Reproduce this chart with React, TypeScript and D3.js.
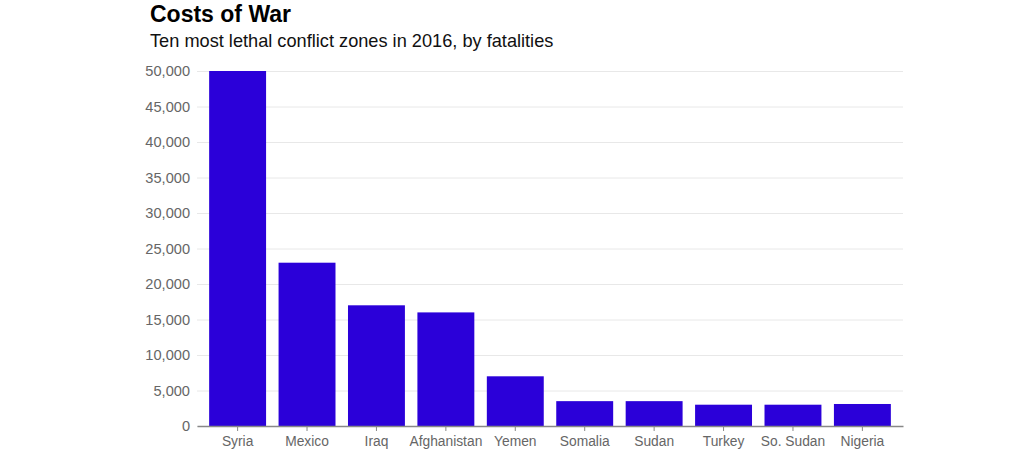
import * as d3 from "d3";
import { useEffect, useRef } from "react";

const countries = [
  "Syria",
  "Mexico",
  "Iraq",
  "Afghanistan",
  "Yemen",
  "Somalia",
  "Sudan",
  "Turkey",
  "So. Sudan",
  "Nigeria",
];
const fatalities = [50000, 23000, 17000, 16000, 7000, 3500, 3500, 3000, 3000, 3100];
const yTicks = [0, 5000, 10000, 15000, 20000, 25000, 30000, 35000, 40000, 45000, 50000];

const title = "Costs of War";
const subtitle = "Ten most lethal conflict zones in 2016, by fatalities";

export default function App() {
  const ref = useRef<SVGSVGElement | null>(null);

  useEffect(() => {
    const el = ref.current;
    if (!el) return;
    const svg = d3.select(el);
    svg.selectAll("*").remove();

    const W = 1024;
    const H = 467;
    const margin = { top: 71, right: 121, bottom: 41, left: 197 };
    const iw = W - margin.left - margin.right;
    const ih = H - margin.top - margin.bottom;
    const font = "'Liberation Sans', Arial, Helvetica, sans-serif";

    const x = d3
      .scaleBand()
      .domain(countries)
      .range([0, iw])
      .paddingInner(0.18)
      .paddingOuter(0.175);
    const y = d3.scaleLinear().domain([0, 50000]).range([ih, 0]);

    svg.attr("viewBox", `0 0 ${W} ${H}`).attr("width", W).attr("height", H);

    svg
      .append("text")
      .attr("x", 150)
      .attr("y", 22)
      .attr("font-family", font)
      .attr("font-weight", "bold")
      .attr("font-size", 23)
      .attr("fill", "#000")
      .text(title);

    svg
      .append("text")
      .attr("x", 150)
      .attr("y", 47)
      .attr("font-family", font)
      .attr("font-size", 18.2)
      .attr("fill", "#111")
      .text(subtitle);

    const g = svg
      .append("g")
      .attr("transform", `translate(${margin.left},${margin.top})`);

    g.append("g")
      .call(
        d3
          .axisLeft(y)
          .tickValues(yTicks)
          .tickFormat((v) => d3.format(",")(v as number))
          .tickSize(-iw)
          .tickPadding(7),
      )
      .call((ga) => ga.select(".domain").remove())
      .call((ga) => ga.selectAll(".tick line").attr("stroke", "#e8e8e8"))
      .call((ga) =>
        ga
          .selectAll(".tick text")
          .attr("fill", "#666")
          .attr("font-size", 14.6)
          .attr("font-family", font),
      );

    g.selectAll("rect.bar")
      .data(countries)
      .join("rect")
      .attr("class", "bar")
      .attr("x", (d) => x(d) ?? 0)
      .attr("width", x.bandwidth())
      .attr("y", (_, i) => y(fatalities[i]))
      .attr("height", (_, i) => ih - y(fatalities[i]))
      .attr("fill", "#2b00d9");

    g.append("g")
      .attr("transform", `translate(0,${ih})`)
      .call(d3.axisBottom(x).tickSizeInner(5).tickSizeOuter(0).tickPadding(5))
      .call((ga) => ga.select(".domain").attr("stroke", "#888").attr("stroke-width", 1.5))
      .call((ga) => ga.selectAll(".tick line").attr("stroke", "#888"))
      .call((ga) =>
        ga
          .selectAll(".tick text")
          .attr("fill", "#666")
          .attr("font-size", 13.8)
          .attr("font-family", font),
      );
  }, []);

  return (
    <svg
      ref={ref}
      style={{ position: "absolute", left: 0, top: 0, display: "block", background: "#fff" }}
    />
  );
}
